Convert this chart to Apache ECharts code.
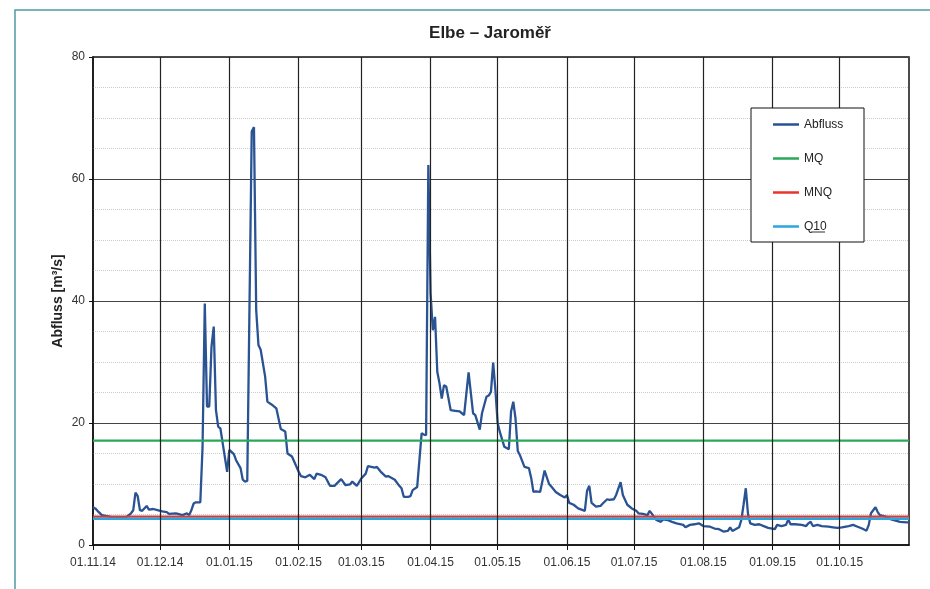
<!DOCTYPE html>
<html>
<head>
<meta charset="utf-8">
<script src="https://cdn.jsdelivr.net/npm/echarts@6/dist/echarts.min.js"></script>
<style>
html,body{margin:0;padding:0;background:#fff;}
#chart{width:930px;height:589px;}
</style>
</head>
<body>
<div id="chart"></div>
<script>
// ---- data (days since 01.11.2014, discharge m³/s) ----
const startDate = '2014-11-01';
const endDate = '2015-11-01';
const tickDates = ['2014-11-01','2014-12-01','2015-01-01','2015-02-01','2015-03-01','2015-04-01',
  '2015-05-01','2015-06-01','2015-07-01','2015-08-01','2015-09-01','2015-10-01'];
const days = [0,1,2,4,8,12,13,15,17,18,19,20,21,22,24,25,27,28,31,33,34,37,38,40,42,43,44,45,46,48,
  49,50,51,52,53,54,55,56,57,58,60,61,63,64,66,67,68,69,71,72,73,74,75,77,78,80,82,84,86,87,89,
  92,93,95,97,99,100,102,104,106,108,111,113,115,116,118,120,122,123,126,127,129,131,132,135,137,
  138,139,141,142,143,145,147,148,149,150,151,152,153,154,155,156,157,158,160,162,164,165,166,168,
  170,171,173,174,176,177,178,179,180,181,182,184,186,187,188,189,190,191,193,195,196,197,198,200,
  202,204,205,207,209,211,212,213,215,217,220,221,222,223,225,227,228,230,231,233,234,236,237,239,
  241,243,244,246,248,249,251,252,254,255,257,259,261,264,265,267,269,271,273,276,278,280,282,284,
  285,286,288,289,290,291,292,293,294,296,298,300,302,305,306,308,310,311,312,314,317,319,320,321,
  322,324,326,329,331,333,335,338,340,342,344,346,347,348,349,350,351,352,355,357,359,361,364,365];
const flow = [6.2,6.0,5.6,4.9,4.6,4.5,4.3,4.6,5.2,5.7,8.6,8.0,5.7,5.6,6.4,5.8,5.9,5.8,5.5,5.4,5.1,5.2,5.1,4.9,5.2,4.9,5.7,6.8,7.0,7.0,
  16.0,39.6,22.7,22.7,32.5,35.8,22.1,19.4,19.1,16.7,12.0,15.6,14.9,13.9,12.6,10.7,10.4,10.5,67.8,68.5,38.5,32.8,32.0,27.6,23.5,23.0,22.4,19.0,18.6,15.0,14.5,
  12.0,11.3,11.1,11.5,10.8,11.7,11.5,11.1,9.7,9.7,10.8,9.8,9.95,10.4,9.7,10.9,11.7,12.95,12.7,12.8,11.9,11.2,11.3,10.7,9.7,
  9.3,7.9,7.9,8.0,9.0,9.5,18.3,18.1,18.0,62.3,41.3,35.2,37.4,28.4,26.5,24.0,26.2,26.0,22.1,22.0,21.9,21.6,21.3,28.3,
  21.6,21.3,18.9,21.6,24.3,24.5,25.1,29.9,25.4,20.0,18.5,16.1,15.7,21.9,23.5,20.7,15.4,14.7,12.8,12.6,11.0,8.7,8.8,8.7,
  12.2,10.0,9.6,8.7,8.2,7.8,8.2,6.9,6.6,6.0,5.6,8.9,9.7,6.9,6.3,6.4,6.8,7.5,7.4,7.5,8.2,10.3,8.2,6.6,
  6.0,5.6,5.2,5.1,4.9,5.6,4.6,4.1,3.8,4.2,4.1,3.8,3.55,3.3,2.9,3.3,3.4,3.55,3.1,3.0,2.7,2.6,2.2,2.3,
  2.9,2.3,2.7,2.9,4.1,6.6,9.3,5.0,3.55,3.3,3.4,3.1,2.8,2.6,3.3,3.1,3.3,4.2,3.4,3.4,3.3,3.1,3.55,3.8,
  3.1,3.3,3.1,3.0,2.9,2.8,2.9,3.1,3.3,3.0,2.7,2.35,3.3,5.2,5.7,6.2,5.4,4.9,4.6,4.2,4.0,3.8,3.7,3.7];
const MQ = 17.1;
const MNQ = 4.65;
const Q10 = 4.3;
const seriesNames = ['Abfluss','MQ','MNQ','Q10'];

// ---- build ----
const DAY = 86400000;
const toTs = s => Date.parse(s + 'T00:00:00Z');
const START = toTs(startDate), END = toTs(endDate);
const ticks = tickDates.map(toTs);
const flowData = days.map((d, i) => [START + d * DAY, flow[i]]);
const pad = n => (n < 10 ? '0' : '') + n;
const fmt = v => { const d = new Date(v); return pad(d.getUTCDate()) + '.' + pad(d.getUTCMonth() + 1) + '.' + pad(d.getUTCFullYear() % 100); };
const FONT = '"Liberation Sans", Arial, sans-serif';
const LINE_ICON = 'path://M0,5.8h26v2.4h-26z M0,0h26v0.001h-26z M0,14h26v0.001h-26z';

const chart = echarts.init(document.getElementById('chart'));
chart.setOption({
  animation: false,
  backgroundColor: '#fff',
  textStyle: { fontFamily: FONT },
  title: {
    text: 'Elbe – Jaroměř', left: 485, top: 20, textAlign: 'center',
    textStyle: { fontFamily: FONT, fontSize: 17, fontWeight: 'bold', color: '#222' }
  },
  graphic: [
    { type: 'rect', shape: { x: 15, y: 10, width: 1000, height: 1000 }, style: { fill: 'none', stroke: '#4f9aa6', lineWidth: 1.5 }, z: 0, silent: true },
    { type: 'rect', shape: { x: 751, y: 108, width: 113, height: 134 }, style: { fill: '#fff', stroke: '#111', lineWidth: 1 }, z: 50, silent: true },
    { type: 'line', shape: { x1: 811, y1: 232, x2: 825, y2: 232 }, style: { stroke: '#333', lineWidth: 1 }, z: 60, silent: true }
  ],
  legend: {
    orient: 'vertical', left: 773, top: 117.5, padding: 0,
    data: seriesNames.map(n => ({ name: n, icon: LINE_ICON })),
    itemWidth: 26, itemHeight: 14, itemGap: 20, itemTextGap: 2,
    textStyle: { fontFamily: FONT, fontSize: 12, color: '#222' }, z: 55, selectedMode: false
  },
  grid: { left: 93, right: 21, top: 57, bottom: 44, show: true, borderColor: '#111', borderWidth: 1.5, backgroundColor: 'transparent' },
  xAxis: {
    type: 'value', min: START, max: END,
    axisLine: { show: true, onZero: false, lineStyle: { color: '#111', width: 1.5 } },
    axisTick: { show: true, customValues: ticks, length: 5, lineStyle: { color: '#111' } },
    axisLabel: { customValues: ticks, formatter: fmt, fontFamily: FONT, fontSize: 12, color: '#333', margin: 12 },
    splitLine: { show: false }
  },
  yAxis: {
    type: 'value', min: 0, max: 80, interval: 20,
    name: 'Abfluss [m³/s]', nameLocation: 'middle', nameGap: 28, nameMoveOverlap: false,
    nameTextStyle: { fontFamily: FONT, fontSize: 14, fontWeight: 'bold', color: '#222' },
    axisLine: { show: true, lineStyle: { color: '#111', width: 1.5 } },
    axisTick: { show: true, length: 4, lineStyle: { color: '#111' } },
    axisLabel: { fontFamily: FONT, fontSize: 12, color: '#333', margin: 8 },
    splitLine: { show: true, lineStyle: { color: '#444', width: 1.2 } },
    minorTick: { show: false, splitNumber: 4 },
    minorSplitLine: { show: true, lineStyle: { color: '#cccccc', type: 'dotted', width: 1 } }
  },
  series: [
    {
      name: 'grid', type: 'line', data: [], z: 1, silent: true,
      markLine: {
        silent: true, symbol: 'none', animation: false,
        label: { show: false },
        lineStyle: { color: '#222', width: 1.2, type: 'solid' },
        data: ticks.slice(1).map(t => ({ xAxis: t }))
      }
    },
    { name: 'Abfluss', type: 'line', data: flowData, symbol: 'none', z: 3,
      itemStyle: { color: '#2a5394' }, lineStyle: { color: '#2a5394', width: 2.3 } },
    { name: 'MQ', type: 'line', data: [[START, MQ], [END, MQ]], symbol: 'none', z: 4,
      itemStyle: { color: '#2aa85a' }, lineStyle: { color: '#2aa85a', width: 2.2 } },
    { name: 'MNQ', type: 'line', data: [[START, MNQ], [END, MNQ]], symbol: 'none', z: 4,
      itemStyle: { color: '#e8352b' }, lineStyle: { color: '#e8352b', width: 2.4 } },
    { name: 'Q10', type: 'line', data: [[START, Q10], [END, Q10]], symbol: 'none', z: 4,
      itemStyle: { color: '#2ba6df' }, lineStyle: { color: '#2ba6df', width: 2.4 } }
  ]
});
</script>
</body>
</html>
